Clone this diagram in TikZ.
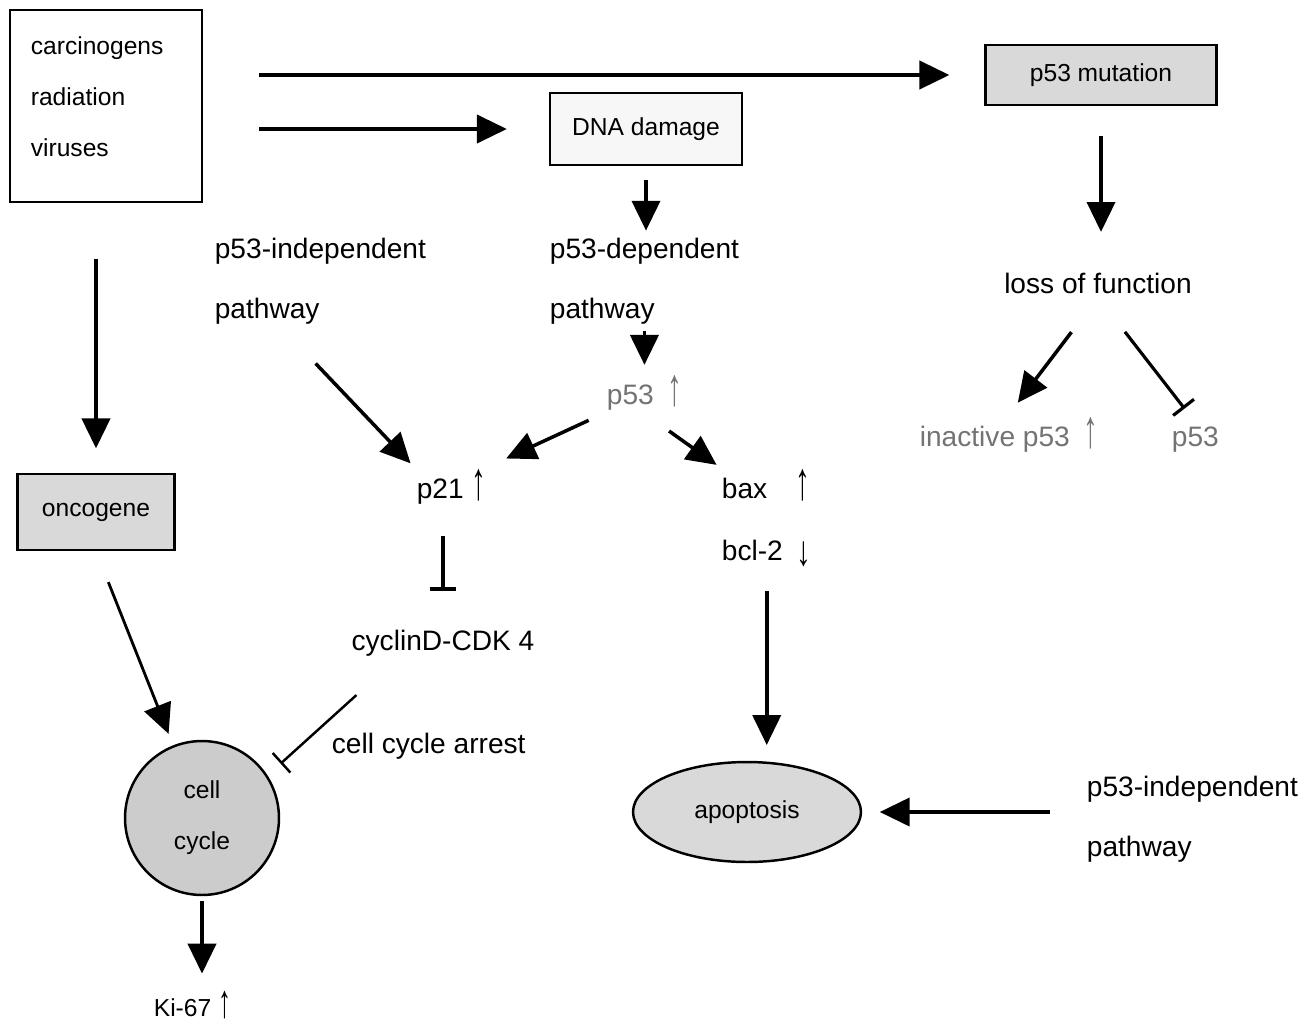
\documentclass[tikz,border=0pt]{standalone}
\usepackage{fontspec}
\setmainfont{Liberation Sans}
\usetikzlibrary{arrows.meta, positioning, shapes.geometric}

\newcommand{\upmark}{\raisebox{-1pt}{\scalebox{1.05}[1.9]{↑}}}
\newcommand{\downmark}{\raisebox{-3pt}{\scalebox{1.05}[1.5]{↓}}}

\begin{document}
\begin{tikzpicture}[
    x=0.02cm, y=-0.02cm,
    sml/.style={font=\fontsize{14}{29}\selectfont, align=center, inner sep=2pt},
    box/.style={sml, draw, line width=1.2pt},
    txt/.style={font=\fontsize{16}{34}\selectfont, align=left, inner sep=2pt},
    dim/.style={txt, text=black!55},
    arr/.style={-{Triangle[length=17pt, width=16pt]}, line width=2pt},
    inh/.style={-{Bar[width=15pt]}, line width=1.8pt}
]
\useasboundingbox (0,0) rectangle (1312,1028);

\node[box, minimum width=3.84cm, minimum height=3.84cm] (src) at (106,106) {};
\node[sml, align=left, anchor=north west] (agents) at (27,33) {carcinogens\\radiation\\viruses};
\node[box, fill=gray!6, minimum width=3.84cm, minimum height=1.44cm] (dna) at (646,129) {DNA damage};
\node[box, fill=gray!30, minimum width=4.62cm, minimum height=1.2cm] (mut) at (1101,75) {p53 mutation};
\node[box, fill=gray!30, minimum width=3.14cm, minimum height=1.52cm] (onc) at (96,512) {oncogene};
\node[box, circle, fill=gray!40, line width=1.4pt, minimum size=3.08cm] (cell) at (202,818) {cell\\cycle};
\node[box, ellipse, fill=gray!30, line width=1.4pt, minimum width=4.56cm, minimum height=2cm] (apop) at (747,812) {apoptosis};

\node[txt, anchor=west] (indep) at (211,281) {p53-independent\\pathway};
\node[txt, anchor=west] (dep) at (546,281) {p53-dependent\\pathway};
\node[txt, anchor=base] (loss) at (1098,293) {loss of function};
\node[dim, anchor=base west] (p53) at (603,404) {p53\hspace{8pt}\upmark};
\node[dim, anchor=base west] (inact) at (916,446) {inactive p53\hspace{8pt}\upmark};
\node[dim, anchor=base west] (p53b) at (1168,446) {p53};
\node[txt, anchor=base west] (p21) at (413,498) {p21 \upmark};
\node[txt, anchor=base west] (bax) at (718,498) {bax\hspace{16pt}\upmark};
\node[txt, anchor=base west] (bcl) at (718,560) {bcl-2\hspace{8pt}\downmark};
\node[txt, anchor=base] (cyc) at (443,650) {cyclinD-CDK 4};
\node[txt, anchor=base west] (arrest) at (328,753) {cell cycle arrest};
\node[txt, anchor=west] (indep2) at (1083,819) {p53-independent\\pathway};
\node[sml, anchor=base west] (ki) at (150,1016) {Ki-67 \upmark};

\draw[arr, shorten <=32pt, shorten >=20pt] (src.east |- mut.west) -- (mut.west);
\draw[arr, shorten <=32pt, shorten >=24pt] (src.east |- dna.west) -- (dna.west);
\draw[arr, shorten <=32pt, shorten >=14pt] (onc.north |- src.south) -- (onc.north);
\draw[arr, line width=1.6pt, shorten <=19pt, shorten >=7pt] (onc.south) -- (cell);
\draw[arr, shorten <=3pt, shorten >=8pt] (cell.south) -- (cell.south |- ki.north);
\draw[arr, shorten <=8pt, shorten >=2pt] (dna.south) -- (dna.south |- dep.north);
\draw[arr, shorten <=2pt, shorten >=4pt] (dep.south) -- (dep.south |- p53.north);
\draw[arr, shorten <=9pt, shorten >=10pt] (p53.south west) -- (p21.north east);
\draw[arr, shorten <=17pt, shorten >=1pt] (p53.south) -- (bax.north west);
\draw[arr, shorten <=28pt, shorten >=2pt] ([xshift=-22pt]indep.south) -- (p21.north west);
\draw[inh, shorten <=16pt, shorten >=20pt] (cyc.north |- p21.south) -- (cyc.north);
\draw[inh, line width=1.4pt, shorten <=30pt, shorten >=10pt] ([xshift=-27pt]cyc.south) -- (cell.33);
\draw[arr, shorten <=12pt, shorten >=9pt] (bcl.south) -- (bcl.south |- apop.north);
\draw[arr, shorten <=17pt, shorten >=21pt] (mut.south) -- (mut.south |- loss.north);
\draw[arr, shorten <=25pt, shorten >=8pt] (loss.south) -- (inact.north);
\draw[inh, shorten <=25pt, shorten >=10pt] (loss.south) -- (p53b.north);
\draw[arr, shorten <=19pt, shorten >=10pt] (indep2.west |- apop.east) -- (apop.east);

\end{tikzpicture}
\end{document}
